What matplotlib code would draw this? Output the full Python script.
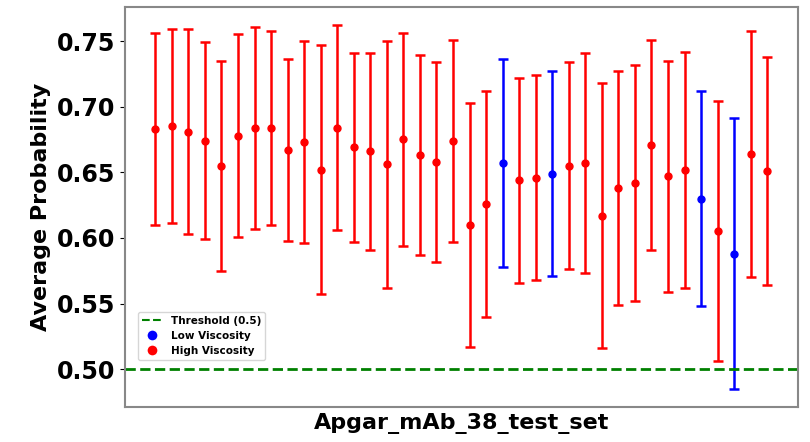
import matplotlib
matplotlib.use("Agg")
import matplotlib.pyplot as plt
from matplotlib.lines import Line2D

# 평균 확률과 오차
means = [0.683, 0.685, 0.681, 0.674, 0.655, 0.678, 0.684, 0.684, 0.667, 0.673,
         0.652, 0.684, 0.669, 0.666, 0.656, 0.675, 0.663, 0.658, 0.674, 0.610,
         0.626, 0.657, 0.644, 0.646, 0.649, 0.655, 0.657, 0.617, 0.638, 0.642,
         0.671, 0.647, 0.652, 0.630, 0.605, 0.588, 0.664, 0.651]
errors = [0.073, 0.074, 0.078, 0.075, 0.080, 0.077, 0.077, 0.074, 0.069, 0.077,
          0.095, 0.078, 0.072, 0.075, 0.094, 0.081, 0.076, 0.076, 0.077, 0.093,
          0.086, 0.079, 0.078, 0.078, 0.078, 0.079, 0.084, 0.101, 0.089, 0.090,
          0.080, 0.088, 0.090, 0.082, 0.099, 0.103, 0.094, 0.087]
# 0 = Low Viscosity, 1 = High Viscosity
labels = [1] * 38
for i in [21, 24, 33, 35]:
    labels[i] = 0

threshold = 0.5
xlabel_text = "Apgar_mAb_38_test_set"

fig = plt.figure(figsize=(8.1, 4.42), dpi=100)
ax = fig.add_axes([0.154, 0.079, 0.831, 0.905])

for i in range(len(means)):
    c = "blue" if labels[i] == 0 else "red"
    ax.errorbar(i, means[i], yerr=errors[i], fmt="o", color=c, ecolor=c,
                markersize=5, elinewidth=1.8, capsize=3.5, capthick=1.8)

ax.axhline(threshold, color="green", linestyle="--", linewidth=2)

ax.set_xticks([])
ax.set_xlabel(xlabel_text, fontsize=16, fontweight="bold")
ax.set_ylabel("Average Probability", fontsize=16, fontweight="bold")
ax.set_yticks([0.50, 0.55, 0.60, 0.65, 0.70, 0.75])
ax.set_yticklabels(["0.50", "0.55", "0.60", "0.65", "0.70", "0.75"],
                   fontsize=17, fontweight="bold")
for s in ax.spines.values():
    s.set_color("#888888")
    s.set_linewidth(1.5)

handles = [
    Line2D([0], [0], color="green", linestyle="--", linewidth=1.5),
    Line2D([0], [0], marker="o", color="w", markerfacecolor="blue", markersize=8),
    Line2D([0], [0], marker="o", color="w", markerfacecolor="red", markersize=8),
]
ax.legend(handles, ["Threshold (0.5)", "Low Viscosity", "High Viscosity"],
          loc="lower left", bbox_to_anchor=(0.019, 0.117), borderaxespad=0,
          prop={"size": 7.5, "weight": "bold"})

fig.savefig("out.png", dpi=100)
